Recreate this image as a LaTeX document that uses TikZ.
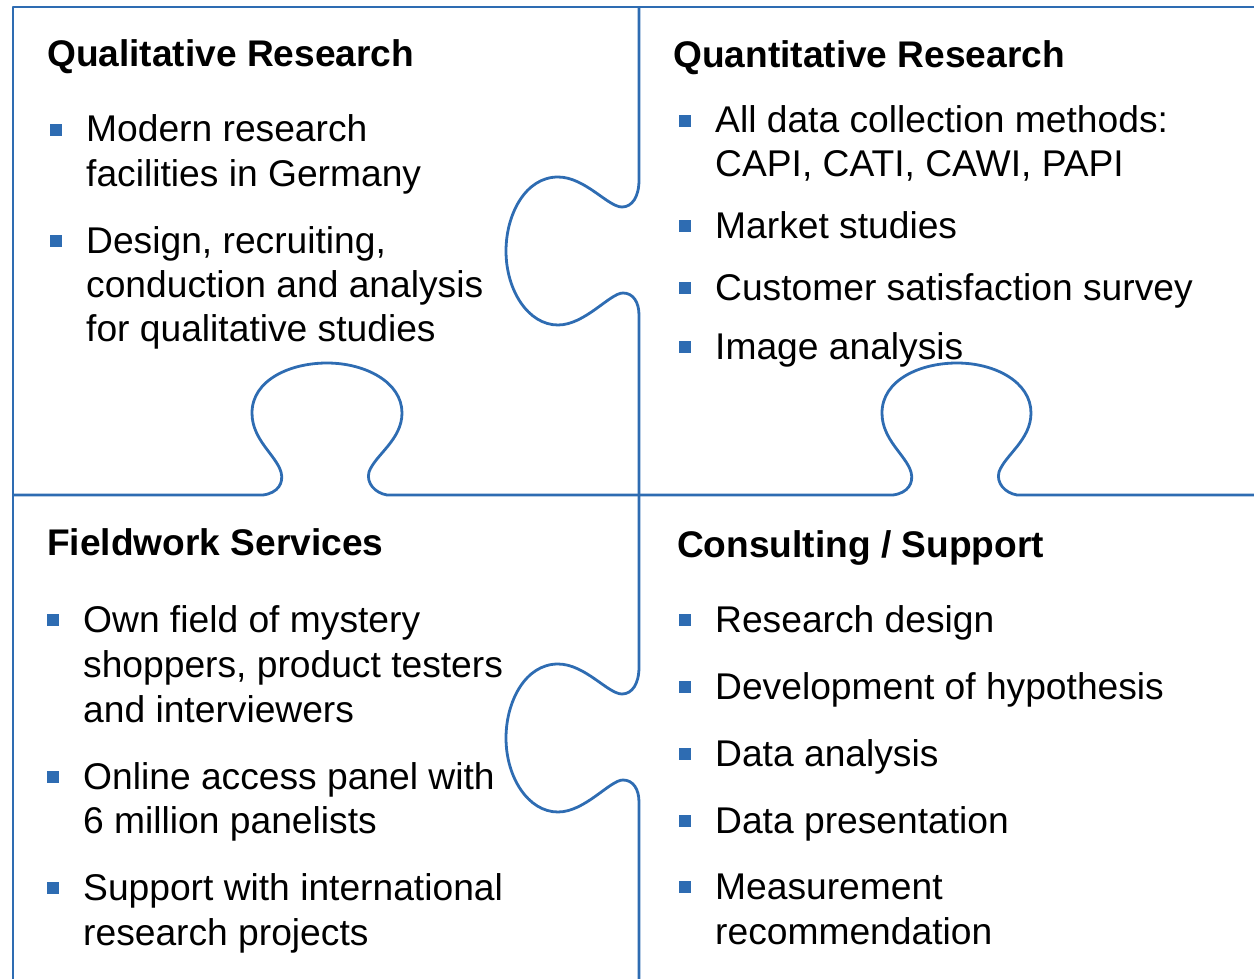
\documentclass[tikz,border=0pt]{standalone}
\usepackage{fontspec}
\setmainfont{Liberation Sans}
\definecolor{pz}{RGB}{46,108,178}
\begin{document}
\begin{tikzpicture}[x=1pt,y=-1pt,
  edge/.style={draw=pz,line width=2.8pt,line join=round},
  head/.style={anchor=base west,inner sep=0pt,font=\fontsize{37.1}{44}\selectfont\bfseries},
  txt/.style={anchor=base west,inner sep=0pt,font=\fontsize{37.2}{44}\selectfont},
  bul/.style={fill=pz,minimum size=12pt,inner sep=0pt,outer sep=0pt}]
\useasboundingbox (0,0) rectangle (1254,979);
% outer border and grid
\draw[edge] (13,979) -- (13,7) -- (1254,7);
\draw[edge] (13,495) -- (263,495)
  .. controls (278,493) and (284,483) .. (281,472)
  .. controls (276,455) and (252,440) .. (252,413)
  .. controls (252,380) and (290,363) .. (327,363)
  .. controls (365,363) and (402,382) .. (402,413)
  .. controls (402,440) and (375,455) .. (369,472)
  .. controls (366,483) and (375,493) .. (387,495)
  -- (893,495)
  .. controls (908,493) and (914,483) .. (911,472)
  .. controls (906,455) and (882,440) .. (882,413)
  .. controls (882,380) and (920,363) .. (957,363)
  .. controls (995,363) and (1031,382) .. (1031,413)
  .. controls (1031,440) and (1005,455) .. (999,472)
  .. controls (996,483) and (1005,493) .. (1017,495)
  -- (1254,495);
\draw[edge] (639,7) -- (639,180)
  .. controls (639,197) and (632,207) .. (622,207)
  .. controls (608,207) and (585,177) .. (558,177)
  .. controls (525,177) and (506,215) .. (506,251)
  .. controls (506,290) and (528,325) .. (558,325)
  .. controls (585,325) and (610,293) .. (623,293)
  .. controls (633,293) and (639,302) .. (639,315)
  -- (639,667)
  .. controls (639,684) and (632,694) .. (622,694)
  .. controls (608,694) and (585,664) .. (558,664)
  .. controls (525,664) and (506,702) .. (506,738)
  .. controls (506,777) and (528,812) .. (558,812)
  .. controls (585,812) and (610,780) .. (623,780)
  .. controls (633,780) and (639,789) .. (639,802)
  -- (639,979);
% Qualitative Research
\node[head] (h1) at (47,67) {Qualitative Research};
\node[bul] (b11) at (55.5,130) {};
\node[txt] (t11) at (86,142) {Modern research};
\node[txt] (t12) at (86,186) {facilities in Germany};
\node[bul] (b12) at (55.5,241) {};
\node[txt] (t13) at (86,253) {Design, recruiting,};
\node[txt] (t14) at (86,297) {conduction and analysis};
\node[txt] (t15) at (86,341) {for qualitative studies};
% Quantitative Research
\node[head] (h2) at (673,68) {Quantitative Research};
\node[bul] (b21) at (685,121) {};
\node[txt] (t21) at (715,133) {All data collection methods:};
\node[txt] (t22) at (715,177) {CAPI, CATI, CAWI, PAPI};
\node[bul] (b22) at (685,226) {};
\node[txt] (t23) at (715,238) {Market studies};
\node[bul] (b23) at (685,288) {};
\node[txt] (t24) at (715,300) {Customer satisfaction survey};
\node[bul] (b24) at (685,347) {};
\node[txt] (t25) at (715,359) {Image analysis};
% Fieldwork Services
\node[head] (h3) at (47,555) {Fieldwork Services};
\node[bul] (b31) at (53,620) {};
\node[txt] (t31) at (83,632) {Own field of mystery};
\node[txt] (t32) at (83,677) {shoppers, product testers};
\node[txt] (t33) at (83,722) {and interviewers};
\node[bul] (b32) at (53,777) {};
\node[txt] (t34) at (83,789) {Online access panel with};
\node[txt] (t35) at (83,833) {6 million panelists};
\node[bul] (b33) at (53,888) {};
\node[txt] (t36) at (83,900) {Support with international};
\node[txt] (t37) at (83,945) {research projects};
% Consulting / Support
\node[head] (h4) at (677,557) {Consulting / Support};
\node[bul] (b41) at (685,620) {};
\node[txt] (t41) at (715,632) {Research design};
\node[bul] (b42) at (685,687) {};
\node[txt] (t42) at (715,699) {Development of hypothesis};
\node[bul] (b43) at (685,754) {};
\node[txt] (t43) at (715,766) {Data analysis};
\node[bul] (b44) at (685,821) {};
\node[txt] (t44) at (715,833) {Data presentation};
\node[bul] (b45) at (685,887) {};
\node[txt] (t45) at (715,899) {Measurement};
\node[txt] (t46) at (715,944) {recommendation};
\end{tikzpicture}
\end{document}
